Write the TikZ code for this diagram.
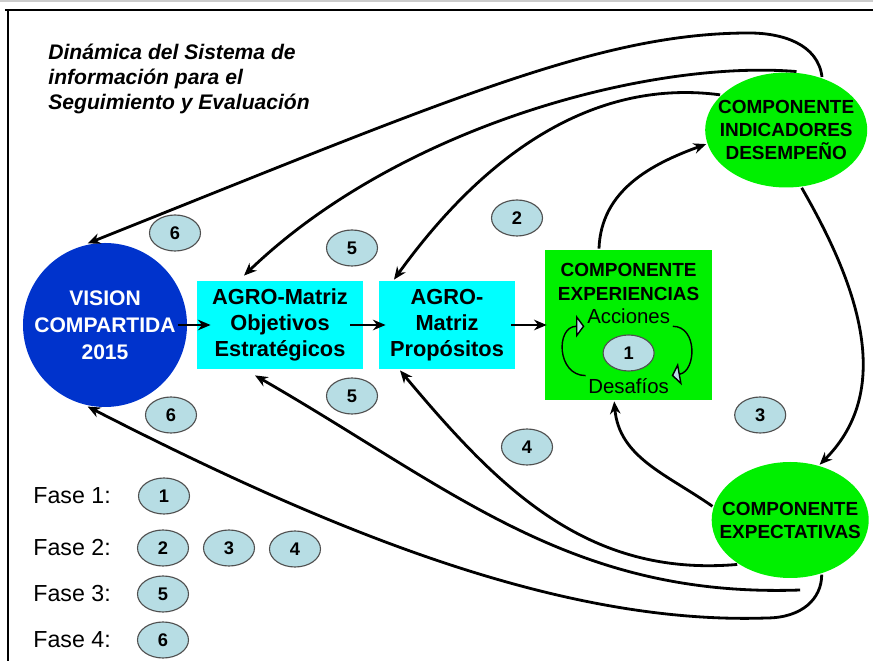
\documentclass[tikz,border=0pt]{standalone}
\usepackage{fontspec}
\setmainfont{Liberation Sans}
\usetikzlibrary{arrows.meta, positioning, shapes.geometric}
\definecolor{azulVision}{RGB}{0,51,204}
\definecolor{cian}{RGB}{0,255,255}
\definecolor{verde}{RGB}{0,240,0}
\definecolor{celeste}{RGB}{183,221,228}
\definecolor{borde}{RGB}{80,80,80}

\begin{document}
\begin{tikzpicture}[auto, >={Stealth[length=9pt,width=7.5pt]}, line width=2pt]
        % Definición de estilos para los bloques, elipses y burbujas
        \tikzstyle{circulo} = [circle, fill=azulVision, minimum size=4.1cm, inner sep=0pt, text=white, align=center, font=\fontsize{15}{19.2}\selectfont\bfseries]
        \tikzstyle{caja} = [rectangle, fill=cian, minimum height=2.2cm, inner sep=0pt, align=center, font=\fontsize{15.5}{18.5}\selectfont\bfseries]
        \tikzstyle{cajaVerde} = [rectangle, fill=verde, minimum width=4.175cm, minimum height=3.75cm]
        \tikzstyle{elipse} = [ellipse, fill=verde, inner sep=0pt]
        \tikzstyle{etiqueta} = [inner sep=0pt, align=center, font=\fontsize{13.5}{16.4}\selectfont\bfseries]
        \tikzstyle{texto} = [inner sep=1pt, font=\fontsize{14.5}{16}\selectfont]
        \tikzstyle{burbuja} = [ellipse, draw=borde, fill=celeste, line width=0.8pt, minimum width=1.275cm, minimum height=0.9cm, inner sep=0pt, font=\fontsize{13}{15}\selectfont\bfseries]
        \tikzstyle{leyenda} = [anchor=west, inner sep=0pt, font=\fontsize{16.5}{18}\selectfont]
        \tikzstyle{ciclo} = [line width=1pt, -{Triangle[length=6pt,width=16pt,fill=celeste]}]

        \useasboundingbox (-2.625,-8.4) rectangle (19.2,8.125);
        \draw [gray!40, line width=0.8pt] (-2.625,8.1) -- (19.2,8.1);
        \draw [line width=1pt] (-2.5,7.875) -- (19.2,7.875);
        \draw [line width=1pt] (-2.425,7.875) -- (-2.425,-8.4);

        % Nodes
        \node [anchor=north west, inner sep=0pt, align=left, font=\fontsize{15}{17.8}\selectfont\bfseries\itshape] at (-1.45,7.05) (titulo) {Dinámica del Sistema de\\información para el\\Seguimiento y Evaluación};
        \node [circulo] at (0,0) (vision) {VISION\\COMPARTIDA\\2015};
        \node [caja, on grid, right=4.375cm of vision, minimum width=4.15cm] (objetivos) {AGRO-Matriz\\Objetivos\\Estratégicos};
        \node [caja, on grid, right=4.175cm of objetivos, minimum width=3.4cm] (propositos) {AGRO-\\Matriz\\Propósitos};
        \node [cajaVerde, on grid, right=4.54cm of propositos] (experiencias) {};
        \node [etiqueta, on grid, above=1.075cm of experiencias] (experienciasTexto) {COMPONENTE\\EXPERIENCIAS};
        \node [texto, on grid, above=0.225cm of experiencias] (acciones) {Acciones};
        \node [texto, on grid, below=1.525cm of experiencias] (desafios) {Desafíos};
        \node [burbuja, on grid, below=0.7cm of experiencias] (uno) {1};
        \node [elipse, on grid, above right=4.875cm and 3.94cm of experiencias, minimum width=4.05cm, minimum height=2.875cm] (indicadores) {};
        \node [etiqueta] at (indicadores) (indicadoresTexto) {COMPONENTE\\INDICADORES\\DESEMPEÑO};
        \node [elipse, on grid, below right=4.875cm and 4.04cm of experiencias, minimum width=3.925cm, minimum height=2.9cm] (expectativas) {};
        \node [etiqueta] at (expectativas) (expectativasTexto) {COMPONENTE\\EXPECTATIVAS};
        \node [coordinate, on grid, above left=2.425cm and 0.925cm of indicadores] (elbowArriba){};
        \node [coordinate, on grid, below right=1.75cm and 0.25cm of expectativas] (elbowAbajo1){};
        \node [coordinate, on grid, below left=2.45cm and 0.6cm of expectativas] (elbowAbajo2){};

        \node [burbuja, on grid, above right=2.3cm and 1.75cm of vision] (seisArriba) {6};
        \node [burbuja, on grid, below right=2.25cm and 1.65cm of vision] (seisAbajo) {6};
        \node [burbuja, on grid, above right=1.925cm and 1.8cm of objetivos] (cincoArriba) {5};
        \node [burbuja, on grid, below right=1.775cm and 1.8cm of objetivos] (cincoAbajo) {5};
        \node [burbuja, on grid, above right=2.675cm and 1.75cm of propositos] (dos) {2};
        \node [burbuja, on grid, below right=3.05cm and 2.0cm of propositos] (cuatro) {4};
        \node [burbuja, on grid, below right=2.25cm and 3.29cm of experiencias] (tres) {3};

        % Leyenda
        \node [leyenda] at (-1.825,-4.275) (fase1) {Fase 1:};
        \node [leyenda] at (-1.825,-5.575) (fase2) {Fase 2:};
        \node [leyenda] at (-1.825,-6.725) (fase3) {Fase 3:};
        \node [leyenda] at (-1.825,-7.875) (fase4) {Fase 4:};
        \node [burbuja] at (1.475,-4.275) (leyUno) {1};
        \node [burbuja] at (1.45,-5.575) (leyDos) {2};
        \node [burbuja] at (3.1,-5.575) (leyTres) {3};
        \node [burbuja] at (4.75,-5.6) (leyCuatro) {4};
        \node [burbuja] at (1.45,-6.725) (leyCinco) {5};
        \node [burbuja] at (1.45,-7.875) (leySeis) {6};

        % Lines
        \draw [->] ([xshift=-0.25cm]vision.east) -- ([xshift=0.375cm]objetivos.west);
        \draw [->] ([xshift=-0.35cm]objetivos.east) -- ([xshift=0.2cm]propositos.west);
        \draw [->] ([xshift=-0.125cm]propositos.east) -- ([xshift=0.075cm]experiencias.west);
        \draw [ciclo] (acciones.south east) to[out=0, in=10, looseness=1.3] (desafios.north east);
        \draw [ciclo] (desafios.north west) to[out=180, in=180, looseness=1.5] (acciones.south west);
        \draw [->] ([xshift=-0.74cm]experiencias.north) to[out=88, in=200] (indicadores.190);
        \draw [->] (indicadores.285) to[out=-60, in=45] (expectativas.62);
        \draw [->] (expectativas.170) to[out=145, in=-85] ([xshift=-0.36cm]experiencias.south);
        \draw [->] (indicadores.56) .. controls +(-0.1,0.825) and +(0.825,0) .. (elbowArriba)
                .. controls +(-3.725,0) and +(9.075,3.625) .. (vision.102);
        \draw [->] (indicadores.80) .. controls +(-3.65,0.3) and +(3.9,3.75) .. ([xshift=-0.9cm,yshift=0.1cm]objetivos.north);
        \draw [->] (indicadores.152) .. controls +(-3.025,0.4) and +(2.4,3.325) .. ([xshift=-1.325cm]propositos.north);
        \draw [->] (expectativas.220) .. controls +(-3.775,-0.325) and +(2.45,-2.925) .. ([xshift=-1.175cm]propositos.south);
        \draw [->] (elbowAbajo1) .. controls +(-5.725,-0.2) and +(4.95,-2.85) .. ([xshift=-0.625cm,yshift=-0.125cm]objetivos.south);
        \draw [->] (expectativas.-60) .. controls +(0,-0.6) and +(0.9,0) .. (elbowAbajo2)
                .. controls +(-5.15,-0.175) and +(6.05,-3.1) .. (vision.258);

      \end{tikzpicture}
\end{document}
